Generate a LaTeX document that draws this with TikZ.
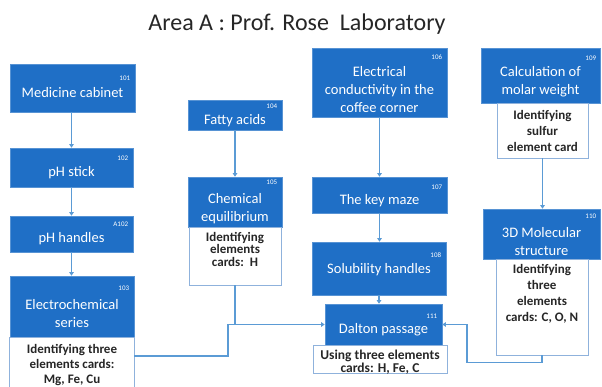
\documentclass[tikz,border=0pt]{standalone}
\usepackage{fontspec}
\setmainfont{Carlito}
\usetikzlibrary{arrows.meta}
\definecolor{boxblue}{HTML}{1F6FC6}
\definecolor{lineblue}{HTML}{5B9BD5}
\definecolor{wborder}{HTML}{8FB2DC}
\tikzset{
  bbox/.style={fill=boxblue, draw=boxblue!75!white, line width=0.6pt, inner sep=0pt},
  wbox/.style={fill=white, draw=wborder, line width=0.9pt, inner sep=0pt},
  btext/.style={text=white, font=\fontsize{14.5}{18}\selectfont, align=center, inner sep=0pt},
  wtext/.style={text=black!85, font=\bfseries\fontsize{13}{15}\selectfont, align=center, inner sep=0pt},
  numtext/.style={text=white, font=\fontsize{7}{8}\selectfont, anchor=east, inner sep=0pt},
  conn/.style={draw=lineblue, line width=1.1pt, -{Triangle[width=4.5pt,length=3.5pt]}},
  plainconn/.style={draw=lineblue, line width=1.1pt}
}
\begin{document}
\begin{tikzpicture}[x=1pt,y=-1pt]
\useasboundingbox (0,0) rectangle (602,387);
\fill[white] (0,0) rectangle (602,387);
% title
\node[text=black!85, font=\fontsize{24}{28}\selectfont, inner sep=0pt] (title) at (297,24) {Area A : Prof. Rose\ \ Laboratory};
% boxes
\node[bbox, minimum width=125pt, minimum height=48pt] (b101) at (72.5,88) {};
\node[bbox, minimum width=123pt, minimum height=39pt] (b102) at (71.5,167.5) {};
\node[bbox, minimum width=123pt, minimum height=36pt] (bA102) at (71.5,234) {};
\node[bbox, minimum width=124pt, minimum height=62pt] (b103) at (72,307) {};
\node[fill=white, inner sep=0pt, minimum width=124pt, minimum height=49pt] (b103w) at (72,362.5) {};
\draw[draw=wborder, line width=0.9pt] (b103w.south west) -- (b103w.north west) -- (b103w.north east) -- (b103w.south east);
\node[bbox, minimum width=94pt, minimum height=30pt] (b104) at (235,115) {};
\node[bbox, minimum width=94pt, minimum height=50pt] (b105) at (235,202) {};
\node[wbox, minimum width=92pt, minimum height=58pt] (b105w) at (235,256) {};
\node[bbox, minimum width=135pt, minimum height=69pt] (b106) at (379.5,82.5) {};
\node[bbox, minimum width=135pt, minimum height=36pt] (b107) at (379.5,195) {};
\node[bbox, minimum width=134pt, minimum height=53pt] (b108) at (379,268.5) {};
\node[bbox, minimum width=117pt, minimum height=41pt] (b111) at (383.5,324.5) {};
\node[wbox, minimum width=134pt, minimum height=28pt] (b111w) at (380,359) {};
\node[bbox, minimum width=119pt, minimum height=55pt] (b109) at (540.5,75.5) {};
\node[wbox, minimum width=91pt, minimum height=55pt] (b109w) at (542.5,130.5) {};
\node[bbox, minimum width=117pt, minimum height=50pt] (b110) at (541.5,234) {};
\node[wbox, minimum width=92pt, minimum height=96pt] (b110w) at (542,307) {};
% numbers
\node[numtext] (n101) at ([xshift=-5pt,yshift=-15pt]b101.north east) {101};
\node[numtext] (n102) at ([xshift=-5pt,yshift=-11pt]b102.north east) {102};
\node[numtext] (nA102) at ([xshift=-5pt,yshift=-9pt]bA102.north east) {A102};
\node[numtext] (n103) at ([xshift=-5pt,yshift=-13pt]b103.north east) {103};
\node[numtext] (n104) at ([xshift=-5pt,yshift=-7pt]b104.north east) {104};
\node[numtext] (n105) at ([xshift=-5pt,yshift=-6pt]b105.north east) {105};
\node[numtext] (n106) at ([xshift=-5pt,yshift=-9pt]b106.north east) {106};
\node[numtext] (n107) at ([xshift=-5pt,yshift=-11pt]b107.north east) {107};
\node[numtext] (n108) at ([xshift=-5pt,yshift=-13pt]b108.north east) {108};
\node[numtext] (n111) at ([xshift=-5pt,yshift=-13pt]b111.north east) {111};
\node[numtext] (n109) at ([xshift=-4pt,yshift=-11pt]b109.north east) {109};
\node[numtext] (n110) at ([xshift=-4pt,yshift=-8pt]b110.north east) {110};
% blue texts
\node[btext] (t101) at (72.5,93) {Medicine cabinet};
\node[btext] (t102) at (71.5,173) {pH stick};
\node[btext] (tA102) at (71.5,239) {pH handles};
\node[btext] (t103) at (72,314) {Electrochemical\\series};
\node[btext] (t104) at (235,121) {Fatty acids};
\node[btext] (t105) at (235,208.5) {Chemical\\equilibrium};
\node[btext] (t106) at (379.5,90) {Electrical\\conductivity in the\\coffee corner};
\node[btext] (t107) at (379.5,201) {The key maze};
\node[btext] (t108) at (379,270) {Solubility handles};
\node[btext] (t111) at (383.5,330) {Dalton passage};
\node[btext] (t109) at (540.5,82) {Calculation of\\molar weight};
\node[btext] (t110) at (541.5,241.5) {3D Molecular\\structure};
% white texts
\node[wtext] (w103) at (72,365) {Identifying three\\elements cards:\\Mg, Fe, Cu};
\node[wtext, font=\bfseries\fontsize{13}{12.5}\selectfont] (w105) at (235,249) {Identifying\\elements\\cards:\ \ H};
\node[wtext, font=\bfseries\fontsize{13}{16}\selectfont] (w109) at (542.5,131) {Identifying\\sulfur\\element card};
\node[wtext, font=\bfseries\fontsize{13}{16}\selectfont] (w110) at (542,294) {Identifying\\three\\elements\\cards: C, O, N};
\node[wtext, font=\bfseries\fontsize{13.5}{12.5}\selectfont] (w111) at (380,362) {Using three elements\\cards: H, Fe, C};
% connectors
\draw[conn] (b101.south -| b102.north) -- (b102.north);
\draw[conn] (b102.south) -- (bA102.north);
\draw[conn] (bA102.south) -- (bA102.south |- b103.north);
\draw[conn] (b104.south) -- (b105.north);
\draw[conn] (b106.south) -- (b107.north);
\draw[conn] (b107.south) -- (b107.south |- b108.north);
\draw[conn] (b108.south) -- (b108.south |- b111.north);
\draw[conn] (b109w.south) -- (b109w.south |- b110.north);
\coordinate (j1) at (228,324.5);
\coordinate (j2) at (467,324.5);
\draw[conn] ([yshift=6.5pt]b103w.east) -| (j1) -- (b111.west);
\draw[plainconn] (b105w.south) -- (b105w.south |- b111.west);
\draw[conn] (b110w.south) -- ++(0,7) -| (j2) -- (b111.east);
\end{tikzpicture}
\end{document}
